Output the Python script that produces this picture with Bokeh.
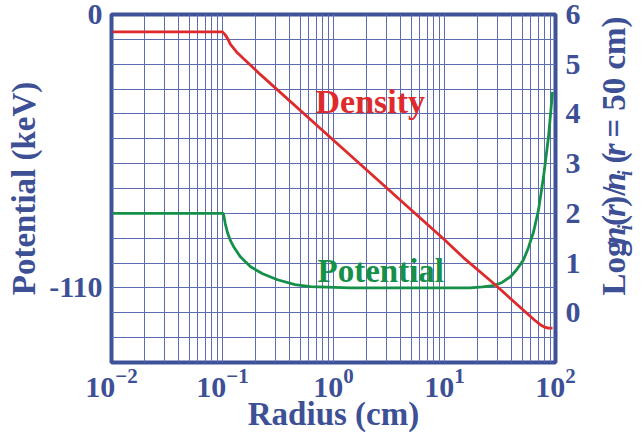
import math
from bokeh.plotting import figure
from bokeh.layouts import row
from bokeh.models import (Range1d, LogTicker, SingleIntervalTicker, FixedTicker,
                          LinearAxis, Label, ColumnDataSource)
from bokeh.embed import file_html
from bokeh.resources import INLINE

# ---------------- data ----------------
radius_density = [0.0103, 0.1, 0.105, 0.111, 0.118, 0.136, 0.22, 1.0, 10.0,
                  14.8, 28.8, 51.5, 65.0, 73.0, 80.0, 86.0, 94.0]
log_density = [5.65, 5.65, 5.60, 5.52, 5.40, 5.23, 4.79, 3.47, 1.47,
               1.11, 0.56, 0.05, -0.15, -0.24, -0.29, -0.31, -0.31]

radius_potential = [0.0103, 0.1, 0.102, 0.106, 0.111, 0.118, 0.126, 0.145,
                    0.179, 0.23, 0.313, 0.45, 0.62, 1.42, 17.0, 22.0, 27.6,
                    33.0, 39.3, 45.0, 51.5, 57.0, 63.4, 70.3, 78.0, 86.5, 94.0]
potential_kev = [-80, -80, -80.2, -84.2, -87.8, -91.0, -93.4, -97.5,
                 -101.5, -104.3, -106.7, -108.7, -109.5, -110, -110, -109.6,
                 -109.1, -107.8, -105.5, -102.5, -98.7, -93.8, -87.5, -78.6,
                 -65.3, -49.2, -31.1]

left_ticks = [0, -110]
left_tick_labels = ["0", "-110"]
right_ticks = [0, 1, 2, 3, 4, 5, 6]

# ---------------- style ----------------
BLUE = "#3d5096"
FRAME = "#3e5199"
GRID = "#5c6cae"
RED = "#de2a2c"
GREEN = "#159048"
FONT = "Liberation Serif"
MID = 0.3375   # em distance from alphabetic baseline to "middle" baseline
NBSP = "\u00a0"

# Times / Liberation Serif advance widths (per 1000 em) for label layout
METRICS = {
    "bold": {"L": 667, "o": 500, "g": 500, " ": 250, "(": 333, ")": 333,
             "/": 278, "=": 570, "5": 500, "0": 500, "c": 444, "m": 833},
    "bold italic": {"n": 556, "r": 389, "i": 278},
}


def text_width(s, style, size):
    return sum(METRICS[style][ch] for ch in s) / 1000.0 * size


W, H = 642, 436
FL, FR, FT, FB = 111, 555, 14, 362   # frame edges in canvas pixels
SIDE_X = 595                          # start of the right title strip
W_MAIN, W_SIDE = SIDE_X, W - SIDE_X

p = figure(width=W_MAIN, height=H, x_axis_type="log",
           x_range=Range1d(0.01, 100), y_range=Range1d(-140, 0),
           output_backend="svg", toolbar_location=None,
           min_border_left=FL, min_border_right=W_MAIN - FR,
           min_border_top=FT, min_border_bottom=H - FB,
           background_fill_color="white", border_fill_color="white")
p.extra_y_ranges = {"dens": Range1d(-1, 6)}


def x_data(px):
    return 10 ** (2 + (px - FR) / ((FR - FL) / 4.0))


def dens_data(py):
    return -1 + (FB - py) / ((FB - FT) / 7.0)


# grid
p.xgrid.ticker = LogTicker(num_minor_ticks=10)
p.xgrid.grid_line_color = GRID
p.xgrid.minor_grid_line_color = GRID
p.ygrid.ticker = SingleIntervalTicker(interval=10)
p.ygrid.grid_line_color = GRID

p.outline_line_color = FRAME
p.outline_line_width = 4

# axes
raxis = LinearAxis(y_range_name="dens", ticker=FixedTicker(ticks=right_ticks))
p.add_layout(raxis, "right")
p.yaxis[0].ticker = FixedTicker(ticks=left_ticks)
p.yaxis[0].major_label_overrides = dict(zip(left_ticks, left_tick_labels))

for ax in p.xaxis + p.yaxis:
    ax.axis_line_color = None
    ax.major_tick_line_color = None
    ax.minor_tick_line_color = None
    ax.major_tick_in = 0
    ax.major_tick_out = 0
    ax.minor_tick_in = 0
    ax.minor_tick_out = 0
    ax.major_label_text_font = FONT
    ax.major_label_text_font_style = "bold"
    ax.major_label_text_font_size = "30px"
    ax.major_label_text_color = BLUE
    ax.axis_label_text_font = FONT
    ax.axis_label_text_font_style = "bold"
    ax.axis_label_text_font_size = "33px"
    ax.axis_label_text_color = BLUE

p.xaxis[0].axis_label = "Radius (cm)"
p.xaxis[0].major_label_standoff = 6
p.xaxis[0].axis_label_standoff = -4
p.yaxis[0].axis_label = "Potential (keV)"
p.yaxis[0].major_label_standoff = 9
p.yaxis[0].axis_label_standoff = 4
raxis.major_label_standoff = 10

# curves
p.line(radius_potential, potential_kev, color=GREEN, line_width=2.8,
       line_join="round")
p.line(radius_density, log_density, color=RED, line_width=2.8,
       line_join="round", y_range_name="dens")

# in-plot labels (positioned by glyph middle)
p.add_layout(Label(x=x_data(315), y=dens_data(112 - MID * 34), y_range_name="dens",
                   text="Density", text_font=FONT, text_font_style="bold",
                   text_font_size="34px", text_color=RED,
                   text_align="left", text_baseline="middle"))
p.add_layout(Label(x=x_data(317), y=dens_data(282 - MID * 33), y_range_name="dens",
                   text="Potential", text_font=FONT, text_font_style="bold",
                   text_font_size="33px", text_color=GREEN,
                   text_align="left", text_baseline="middle"))

# ---------- right axis title strip (italic symbols and subscripts) ----------
side = figure(width=W_SIDE, height=H, x_range=Range1d(0, W_SIDE),
              y_range=Range1d(0, H), x_axis_location=None, y_axis_location=None,
              output_backend="svg", toolbar_location=None,
              min_border_left=0, min_border_right=0, min_border_top=0,
              min_border_bottom=0, outline_line_color=None,
              background_fill_color="white", border_fill_color="white")
side.grid.visible = False

pieces = [("Log ", "bold", 33, 0), ("n", "bold italic", 33, 0),
          ("i", "bold italic", 20, 6), ("(", "bold", 33, 0),
          ("r", "bold italic", 33, 0), (")/", "bold", 33, 0),
          ("n", "bold italic", 33, 0), ("i", "bold italic", 20, 6),
          (" (", "bold", 33, 0), ("r", "bold italic", 33, 0),
          (" = 50 cm)", "bold", 33, 0)]
baseline_x = 625 - SIDE_X
tx, ty, ttext, tsize, tstyle = [], [], [], [], []
pos = H - 352
for txt, style, size, drop in pieces:
    tx.append(baseline_x + drop - MID * size)
    ty.append(pos)
    ttext.append(txt.replace(" ", NBSP))
    tsize.append(f"{size}px")
    tstyle.append(style)
    pos += text_width(txt, style, size)
tsrc = ColumnDataSource(dict(x=tx, y=ty, text=ttext, size=tsize, style=tstyle))
side.text(x="x", y="y", text="text", source=tsrc, angle=math.pi / 2,
          text_font=FONT, text_font_size="size", text_font_style="style",
          text_color=BLUE, text_align="left", text_baseline="middle")

layout = row(p, side)
html = file_html(layout, INLINE)
open("out.html", "w").write(html)
